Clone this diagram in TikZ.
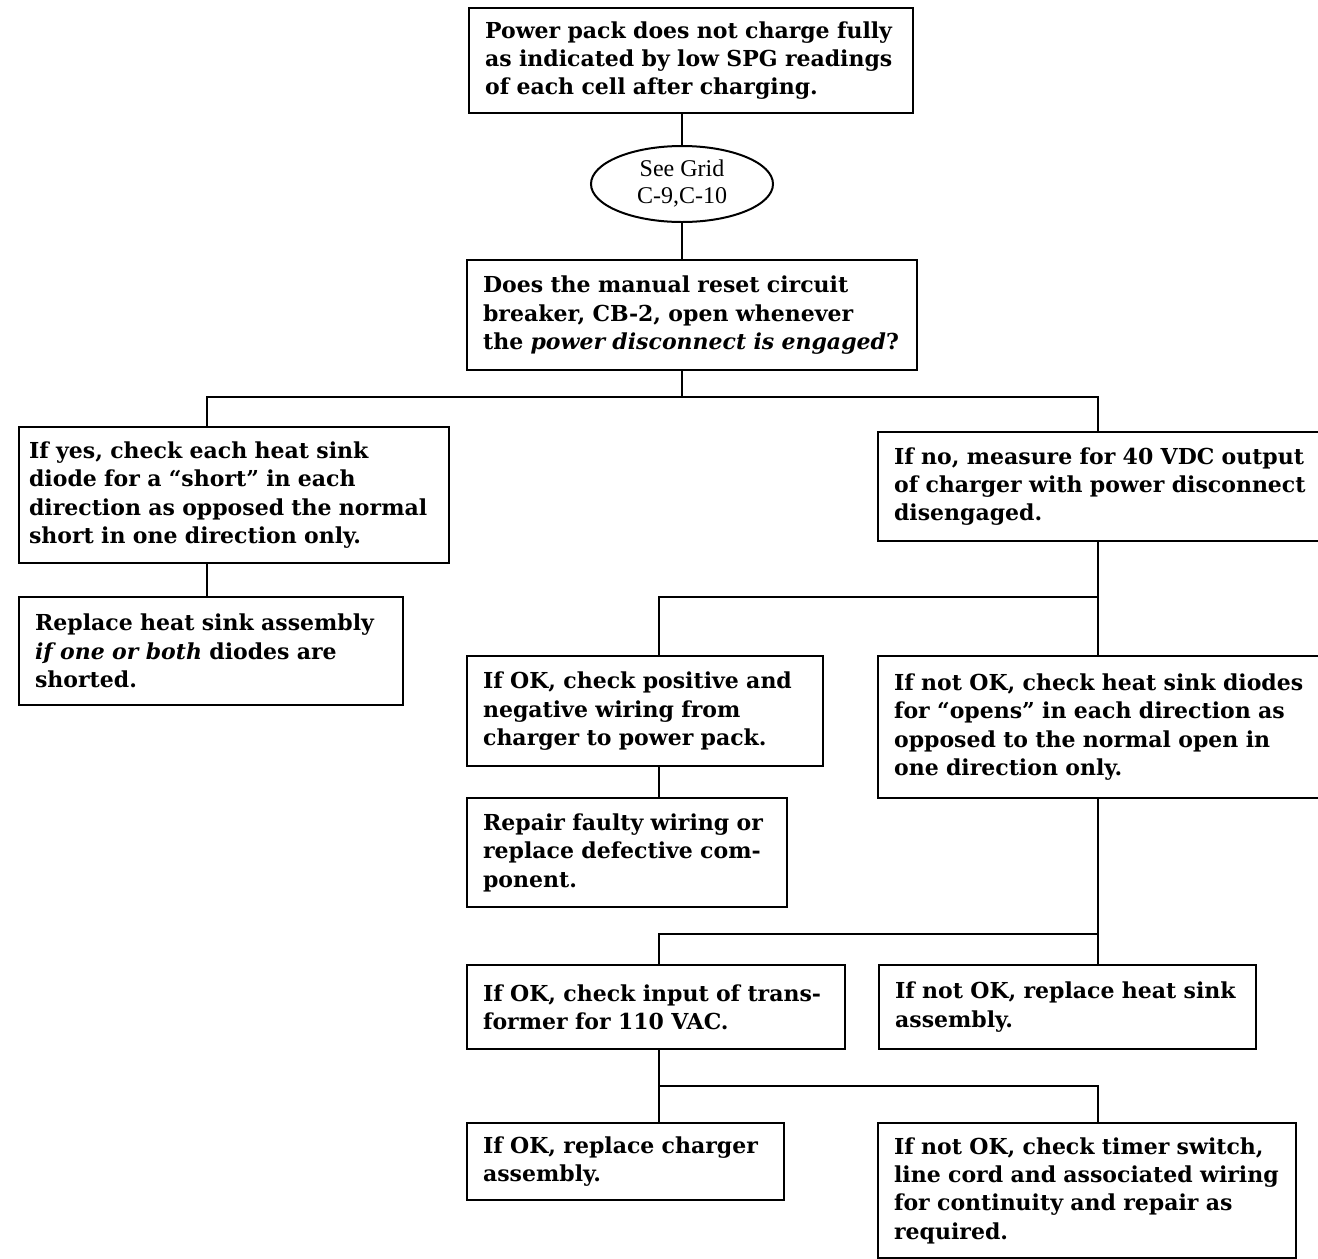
\documentclass[tikz,border=0pt]{standalone}
\usepackage{fontspec}
\setmainfont{DejaVu Serif}
\newfontfamily\gridfont{Liberation Serif}
\usetikzlibrary{shapes.geometric}

\tikzset{
  panel/.style={draw, line width=1.1pt, rectangle, anchor=north west, align=left,
    inner xsep=8pt, inner ysep=0pt, font=\bfseries\fontsize{11}{14.2}\selectfont},
  gridmark/.style={draw, line width=1pt, ellipse, minimum width=91pt, minimum height=38pt,
    inner sep=0pt, align=center, font=\gridfont\fontsize{12}{13.5}\selectfont},
  link/.style={line width=1.1pt}
}

\begin{document}
\begin{tikzpicture}[x=0.5pt, y=-0.5pt]
\useasboundingbox (0,0) rectangle (1318,1259);

\node[panel, text width=206pt, minimum height=52.5pt] (pack) at (468,7)
  {Power pack does not charge fully\\ as indicated by low SPG readings\\ of each cell after charging.};
\node[gridmark] (grid) at (682,184) {See Grid\\ C-9,C-10};
\node[panel, text width=209pt, minimum height=55pt] (breaker) at (466,259)
  {Does the manual reset circuit\\ breaker, CB-2, open whenever\\ the \textit{power disconnect is engaged}?};

\node[panel, inner xsep=5pt, text width=205pt, minimum height=68pt] (yes) at (18,426)
  {If yes, check each heat sink\\ diode for a ``short'' in each\\ direction as opposed the normal\\ short in one direction only.};
\node[panel, text width=176pt, minimum height=54pt] (shorted) at (18,596)
  {Replace heat sink assembly\\ \textit{if one or both} diodes are\\ shorted.};

\node[panel, text width=206pt, minimum height=54.5pt] (measure) at (877,431)
  {If no, measure for 40 VDC output\\ of charger with power disconnect\\ disengaged.};
\node[panel, text width=162pt, minimum height=55pt] (wiring) at (466,655)
  {If OK, check positive and\\ negative wiring from\\ charger to power pack.};
\node[panel, text width=206pt, minimum height=71pt] (opens) at (877,655)
  {If not OK, check heat sink diodes\\ for ``opens'' in each direction as\\ opposed to the normal open in\\ one direction only.};
\node[panel, text width=144pt, minimum height=54.5pt] (repair) at (466,797)
  {Repair faulty wiring or\\ replace defective com-\\ ponent.};

\node[panel, text width=173pt, minimum height=42pt] (input) at (466,964)
  {If OK, check input of trans-\\ former for 110 VAC.};
\node[panel, text width=172.5pt, minimum height=42pt] (heatsink) at (878,964)
  {If not OK, replace heat sink\\ assembly.};
\node[panel, text width=142.5pt, minimum height=38.5pt] (charger) at (466,1122)
  {If OK, replace charger\\ assembly.};
\node[panel, text width=193pt, minimum height=67.5pt] (timer) at (877,1122)
  {If not OK, check timer switch,\\ line cord and associated wiring\\ for continuity and repair as\\ required.};

\coordinate (fork) at (682,397);
\coordinate (yesdrop) at (207,397);
\coordinate (nodrop) at (1098,397);
\coordinate (okfork) at (659,597);
\coordinate (lowfork) at (659,934);
\coordinate (endfork) at (659,1086);

\draw[link] (grid.north) -- (grid.north |- pack.south);
\draw[link] (grid.south) -- (grid.south |- breaker.north);
\draw[link] (fork |- breaker.south) -- (fork);
\draw[link] (yesdrop |- yes.north) -- (yesdrop) -- (nodrop) -- (nodrop |- measure.north);
\draw[link] (yesdrop |- yes.south) -- (yesdrop |- shorted.north);
\draw[link] (nodrop |- measure.south) -- (nodrop |- opens.north);
\draw[link] (nodrop |- okfork) -- (okfork) -- (okfork |- wiring.north);
\draw[link] (okfork |- wiring.south) -- (okfork |- repair.north);
\draw[link] (nodrop |- opens.south) -- (nodrop |- lowfork) -- (lowfork) -- (lowfork |- input.north);
\draw[link] (nodrop |- lowfork) -- (nodrop |- heatsink.north);
\draw[link] (endfork |- input.south) -- (endfork) -- (nodrop |- endfork) -- (nodrop |- timer.north);
\draw[link] (endfork) -- (endfork |- charger.north);
\end{tikzpicture}
\end{document}
